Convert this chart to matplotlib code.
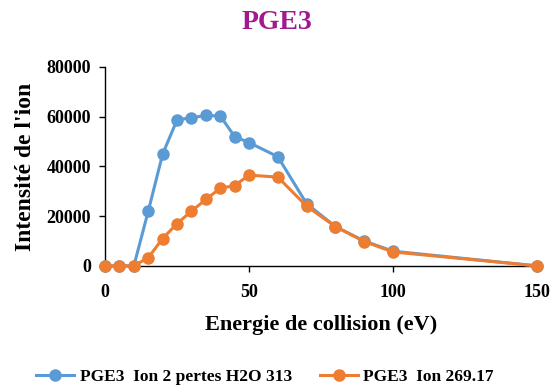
import matplotlib.pyplot as plt

energy = [0, 5, 10, 15, 20, 25, 30, 35, 40, 45, 50, 60, 70, 80, 90, 100, 150]
ion_313 = [0, 0, 0, 22000, 45000, 58700, 59600, 60500, 60300, 52000, 49600, 43900,
           25000, 15800, 10000, 5900, 0]
ion_269 = [0, 0, 0, 3300, 11000, 17000, 22000, 26700, 31200, 32300, 36500, 35700,
           24000, 15800, 9800, 5600, 0]
x_ticks = [0, 50, 100, 150]
y_ticks = [0, 20000, 40000, 60000, 80000]

plt.rcParams["font.family"] = ["Liberation Serif", "DejaVu Serif"]
plt.rcParams["font.weight"] = "bold"

fig = plt.figure(figsize=(5.53, 3.87), dpi=100)
ax = fig.add_axes([0.190, 0.313, 0.781, 0.514])

ax.plot(energy, ion_313, color="#5B9BD5", lw=2.2, marker="o", ms=8,
        label="PGE3  Ion 2 pertes H2O 313", clip_on=False, zorder=3)
ax.plot(energy, ion_269, color="#ED7D31", lw=2.2, marker="o", ms=8,
        label="PGE3  Ion 269.17", clip_on=False, zorder=4)

ax.set_xlim(0, 150)
ax.set_ylim(0, 80000)
ax.set_xticks(x_ticks)
ax.set_yticks(y_ticks)
ax.tick_params(labelsize=13, length=4, width=1, direction="out")
ax.tick_params(axis="x", pad=9)
ax.tick_params(axis="y", pad=6)
for lab in ax.get_xticklabels() + ax.get_yticklabels():
    lab.set_fontweight("bold")

for side in ["top", "right"]:
    ax.spines[side].set_visible(False)
for side in ["left", "bottom"]:
    ax.spines[side].set_color("#000000")
    ax.spines[side].set_linewidth(1)

ax.set_xlabel("Energie de collision (eV)", fontsize=16, fontweight="bold", labelpad=10)
ax.set_ylabel("Intensité de l'ion", fontsize=17, fontweight="bold", labelpad=8)

fig.text(0.5, 0.943, "PGE3", ha="center", va="center", fontsize=20,
         fontweight="bold", color="#A0198F")

fig.legend(loc="center", bbox_to_anchor=(0.479, 0.026), ncol=2, frameon=False,
           prop={"size": 12.5, "weight": "bold"}, handlelength=2.2, columnspacing=1.6,
           handletextpad=0.3)

fig.savefig("out.png", dpi=100)
